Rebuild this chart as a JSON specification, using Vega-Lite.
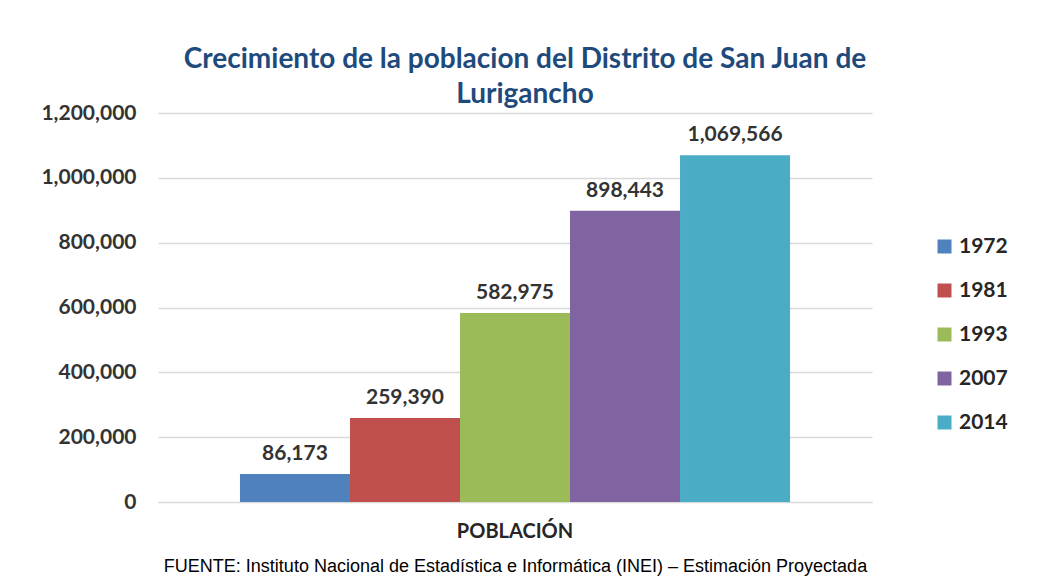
{
  "$schema": "https://vega.github.io/schema/vega-lite/v6.json",
  "width": 714,
  "height": 389,
  "autosize": "none",
  "padding": {"left": 158, "top": 113, "right": 168, "bottom": 75},
  "background": "white",
  "config": {"view": {"stroke": null}, "font": "Lato"},
  "title": {
    "text": ["Crecimiento de la poblacion del Distrito de San Juan de", "Lurigancho"],
    "fontSize": 28,
    "font": "Lato",
    "fontWeight": "bold",
    "color": "#1F4A7C",
    "lineHeight": 35,
    "anchor": "middle",
    "dx": 10,
    "offset": -7
  },
  "data": {
    "values": [
      {"grupo": "POBLACIÓN", "anio": "1972", "poblacion": 86173},
      {"grupo": "POBLACIÓN", "anio": "1981", "poblacion": 259390},
      {"grupo": "POBLACIÓN", "anio": "1993", "poblacion": 582975},
      {"grupo": "POBLACIÓN", "anio": "2007", "poblacion": 898443},
      {"grupo": "POBLACIÓN", "anio": "2014", "poblacion": 1069566}
    ]
  },
  "encoding": {
    "x": {
      "field": "grupo",
      "type": "nominal",
      "scale": {"paddingInner": 0, "paddingOuter": 0.149},
      "axis": {
        "labelAngle": 0,
        "labelFontSize": 20,
        "labelFontWeight": "bold",
        "labelColor": "#262626",
        "labelPadding": 19,
        "ticks": false,
        "domainColor": "#D9D9D9",
        "title": "FUENTE: Instituto Nacional de Estadística e Informática (INEI) – Estimación Proyectada",
        "titleFont": "Liberation Sans",
        "titleFontSize": 18,
        "titleFontWeight": "normal",
        "titleColor": "#000000",
        "titlePadding": 16
      }
    },
    "xOffset": {"field": "anio", "type": "nominal", "scale": {"paddingInner": 0}},
    "y": {
      "field": "poblacion",
      "type": "quantitative",
      "scale": {"domain": [0, 1200000]},
      "axis": {
        "values": [0, 200000, 400000, 600000, 800000, 1000000, 1200000],
        "format": ",d",
        "title": null,
        "domain": false,
        "ticks": false,
        "labelPadding": 22,
        "labelFontSize": 21,
        "labelFontWeight": "bold",
        "labelColor": "#333333",
        "gridColor": "#D9D9D9",
        "gridWidth": 1.5
      }
    }
  },
  "layer": [
    {
      "mark": {"type": "bar"},
      "encoding": {
        "color": {
          "field": "anio",
          "type": "nominal",
          "scale": {
            "domain": ["1972", "1981", "1993", "2007", "2014"],
            "range": ["#4F81BD", "#C0504D", "#9BBB59", "#8064A2", "#4BACC6"]
          },
          "legend": {
            "orient": "none",
            "legendX": 776,
            "legendY": 123,
            "title": null,
            "symbolType": "square",
            "symbolSize": 196,
            "symbolStrokeWidth": 0,
            "labelFontSize": 21,
            "labelFontWeight": "bold",
            "labelColor": "#262626",
            "rowPadding": 22,
            "labelOffset": 4
          }
        }
      }
    },
    {
      "mark": {"type": "text", "baseline": "bottom", "dy": -10, "fontSize": 21, "fontWeight": "bold", "color": "#333333"},
      "encoding": {
        "text": {"field": "poblacion", "type": "quantitative", "format": ",d"}
      }
    }
  ]
}
